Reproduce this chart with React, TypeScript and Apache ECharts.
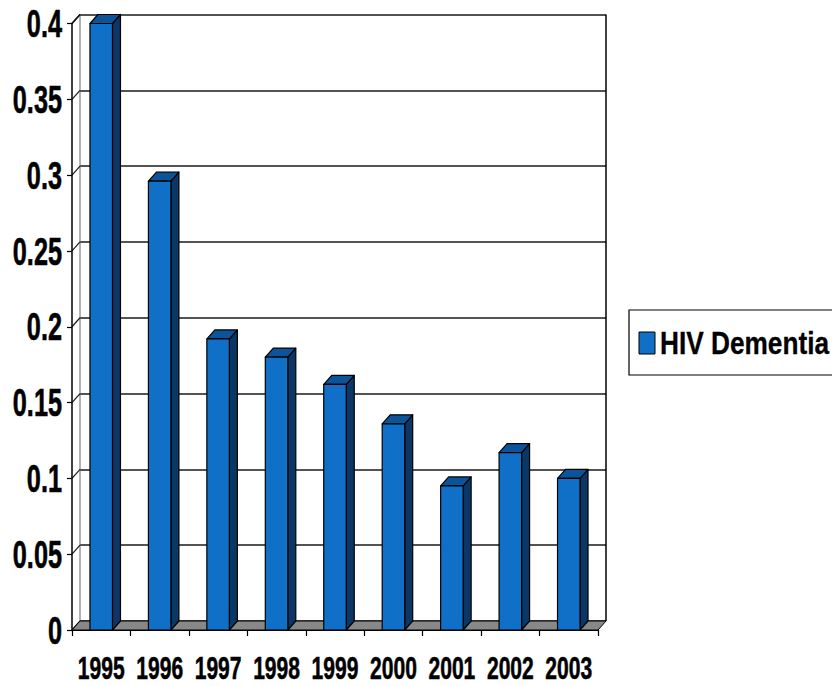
import React, { useEffect, useRef } from "react";
import * as echarts from "echarts";

// Chart data
const years = ["1995", "1996", "1997", "1998", "1999", "2000", "2001", "2002", "2003"];
const dementiaRate = [0.4, 0.296, 0.192, 0.18, 0.162, 0.136, 0.095, 0.117, 0.1];
const yTicks = [0, 0.05, 0.1, 0.15, 0.2, 0.25, 0.3, 0.35, 0.4];
const yTickLabels = ["0", "0.05", "0.1", "0.15", "0.2", "0.25", "0.3", "0.35", "0.4"];
const seriesName = "HIV Dementia";

// Layout of the 3D box (front plane and depth offset)
const FRONT = { left: 72, top: 23.5, right: 598, bottom: 630 };
const DX = 8;
const DY = 9;
const CANVAS = { w: 832, h: 686 };

// Bold text condensed horizontally to get a narrow face
const FONT_FAMILY = "'Liberation Sans', Arial, sans-serif";
const C_FRONT = "#1070C8";
const C_TOP = "#0C549A";
const C_SIDE = "#0A3766";
const C_FLOOR = "#888888";

export default function App() {
  const ref = useRef<HTMLDivElement>(null);

  useEffect(() => {
    if (!ref.current) return;
    const chart = echarts.init(ref.current, undefined, { renderer: "svg" });

    const backRight = FRONT.right + DX;
    const backTop = FRONT.top - DY;
    const backBottom = FRONT.bottom - DY;
    const backLeft = FRONT.left + DX;

    const textEl = (
      text: string,
      x: number,
      y: number,
      size: number,
      sx: number,
      sy: number,
      align: string,
      weight = 0.5
    ) => ({
      type: "text",
      x,
      y,
      scaleX: sx,
      scaleY: sy,
      style: {
        text,
        x: 0,
        y: 0,
        fill: "#000",
        stroke: "#000",
        lineWidth: weight,
        font: `bold ${size}px ${FONT_FAMILY}`,
        align,
        verticalAlign: "middle",
        textAlign: align,
        textVerticalAlign: "middle",
      },
    });

    const option: any = {
      animation: false,
      backgroundColor: "#ffffff",
      grid: [
        {
          left: FRONT.left,
          top: FRONT.top,
          right: CANVAS.w - FRONT.right,
          bottom: CANVAS.h - FRONT.bottom,
          outerBoundsMode: "none",
        },
        {
          left: backLeft,
          top: backTop,
          right: CANVAS.w - backRight,
          bottom: CANVAS.h - backBottom,
          outerBoundsMode: "none",
        },
      ],
      xAxis: [
        {
          type: "category",
          gridIndex: 0,
          data: years,
          axisLine: { show: true, lineStyle: { color: "#000", width: 1.2 } },
          axisTick: { show: true, length: 6, lineStyle: { color: "#000", width: 1.2 } },
          axisLabel: { show: false },
          z: 5,
        },
        {
          type: "category",
          gridIndex: 1,
          data: years,
          show: false,
        },
      ],
      yAxis: [
        {
          type: "value",
          gridIndex: 0,
          min: 0,
          max: 0.4,
          interval: 0.05,
          splitLine: { show: false },
          axisLine: { show: true, lineStyle: { color: "#000", width: 1.5 } },
          axisTick: { show: true, length: 5, lineStyle: { color: "#000", width: 1.2 } },
          axisLabel: { show: false },
          z: 5,
        },
        {
          type: "value",
          gridIndex: 1,
          min: 0,
          max: 0.4,
          interval: 0.05,
          axisLine: { show: false },
          axisTick: { show: false },
          axisLabel: { show: false },
          splitLine: { show: true, lineStyle: { color: "#1a1a1a", width: 1.5 } },
        },
      ],
      graphic: [
        // back wall right edge
        {
          type: "line",
          silent: true,
          z: 1,
          shape: { x1: backRight, y1: backTop, x2: backRight, y2: backBottom },
          style: { stroke: "#000", lineWidth: 1.5 },
        },
        // back wall left edge
        {
          type: "line",
          silent: true,
          z: 1,
          shape: { x1: backLeft, y1: backTop, x2: backLeft, y2: backBottom },
          style: { stroke: "#666", lineWidth: 1 },
        },
        // side wall top edge
        {
          type: "line",
          silent: true,
          z: 1,
          shape: { x1: FRONT.left, y1: FRONT.top, x2: backLeft, y2: backTop },
          style: { stroke: "#000", lineWidth: 1.5 },
        },
        // floor
        {
          type: "polygon",
          silent: true,
          z: 2,
          shape: {
            points: [
              [FRONT.left, FRONT.bottom],
              [FRONT.right, FRONT.bottom],
              [backRight, backBottom],
              [backLeft, backBottom],
            ],
          },
          style: { fill: C_FLOOR, stroke: "#000", lineWidth: 1 },
        },
        // legend box
        {
          type: "group",
          z: 10,
          children: [
            {
              type: "rect",
              shape: { x: 629, y: 310, width: 220, height: 65 },
              style: { fill: "#fff", stroke: "#000", lineWidth: 1.2 },
            },
            {
              type: "rect",
              shape: { x: 639, y: 332, width: 16, height: 22 },
              style: { fill: C_FRONT, stroke: "#000", lineWidth: 1 },
            },
            textEl(seriesName, 660, 343, 32, 0.82, 1.0, "left", 0.3),
          ],
        },
      ],
      series: [
        {
          // gridlines running across the side wall
          type: "custom",
          name: "sideWall",
          silent: true,
          xAxisIndex: 0,
          yAxisIndex: 0,
          z: 1,
          data: yTicks.map((t) => [0, t]),
          renderItem: (params: any, api: any) => {
            const p = api.coord([0, api.value(1)]);
            const band = api.size([1, 0])[0];
            const x = p[0] - band / 2;
            return {
              type: "line",
              shape: { x1: x, y1: p[1], x2: x + DX, y2: p[1] - DY },
              style: { stroke: "#1a1a1a", lineWidth: 1.2 },
            };
          },
        },
        {
          // value axis labels
          type: "custom",
          name: "yLabels",
          silent: true,
          xAxisIndex: 0,
          yAxisIndex: 0,
          z: 6,
          data: yTicks.map((t, i) => [0, t, i]),
          renderItem: (params: any, api: any) => {
            const p = api.coord([0, api.value(1)]);
            const band = api.size([1, 0])[0];
            const x = p[0] - band / 2 - 10;
            return textEl(yTickLabels[api.value(2)], x, p[1], 32, 0.79, 1.22, "right");
          },
        },
        {
          // category axis labels
          type: "custom",
          name: "xLabels",
          silent: true,
          xAxisIndex: 0,
          yAxisIndex: 0,
          z: 6,
          data: years.map((_, i) => [i, 0]),
          renderItem: (params: any, api: any) => {
            const idx = api.value(0);
            const p = api.coord([idx, 0]);
            return textEl(years[idx], p[0], p[1] + 38.5, 27, 0.78, 1.13, "center");
          },
        },
        {
          type: "custom",
          name: seriesName,
          xAxisIndex: 0,
          yAxisIndex: 0,
          z: 3,
          itemStyle: { color: C_FRONT },
          data: dementiaRate.map((v, i) => [i, v]),
          renderItem: (params: any, api: any) => {
            const idx = api.value(0);
            const top = api.coord([idx, api.value(1)]);
            const base = api.coord([idx, 0]);
            const bw = api.size([1, 0])[0] * 0.385;
            const x0 = top[0] - bw / 2;
            const x1 = top[0] + bw / 2;
            const yT = top[1];
            const yB = base[1];
            const stroke = { stroke: "#000", lineWidth: 1.2, lineJoin: "round" };
            return {
              type: "group",
              children: [
                {
                  type: "polygon",
                  shape: {
                    points: [
                      [x1, yT],
                      [x1 + DX, yT - DY],
                      [x1 + DX, yB - DY],
                      [x1, yB],
                    ],
                  },
                  style: { fill: C_SIDE, ...stroke },
                },
                {
                  type: "polygon",
                  shape: {
                    points: [
                      [x0, yT],
                      [x0 + DX, yT - DY],
                      [x1 + DX, yT - DY],
                      [x1, yT],
                    ],
                  },
                  style: { fill: C_TOP, ...stroke },
                },
                {
                  type: "rect",
                  shape: { x: x0, y: yT, width: bw, height: yB - yT },
                  style: { fill: C_FRONT, ...stroke },
                },
              ],
            };
          },
        },
      ],
    };

    chart.setOption(option);
    return () => chart.dispose();
  }, []);

  return (
    <div
      ref={ref}
      style={{ width: CANVAS.w, height: CANVAS.h, position: "absolute", left: 0, top: 0 }}
    />
  );
}
